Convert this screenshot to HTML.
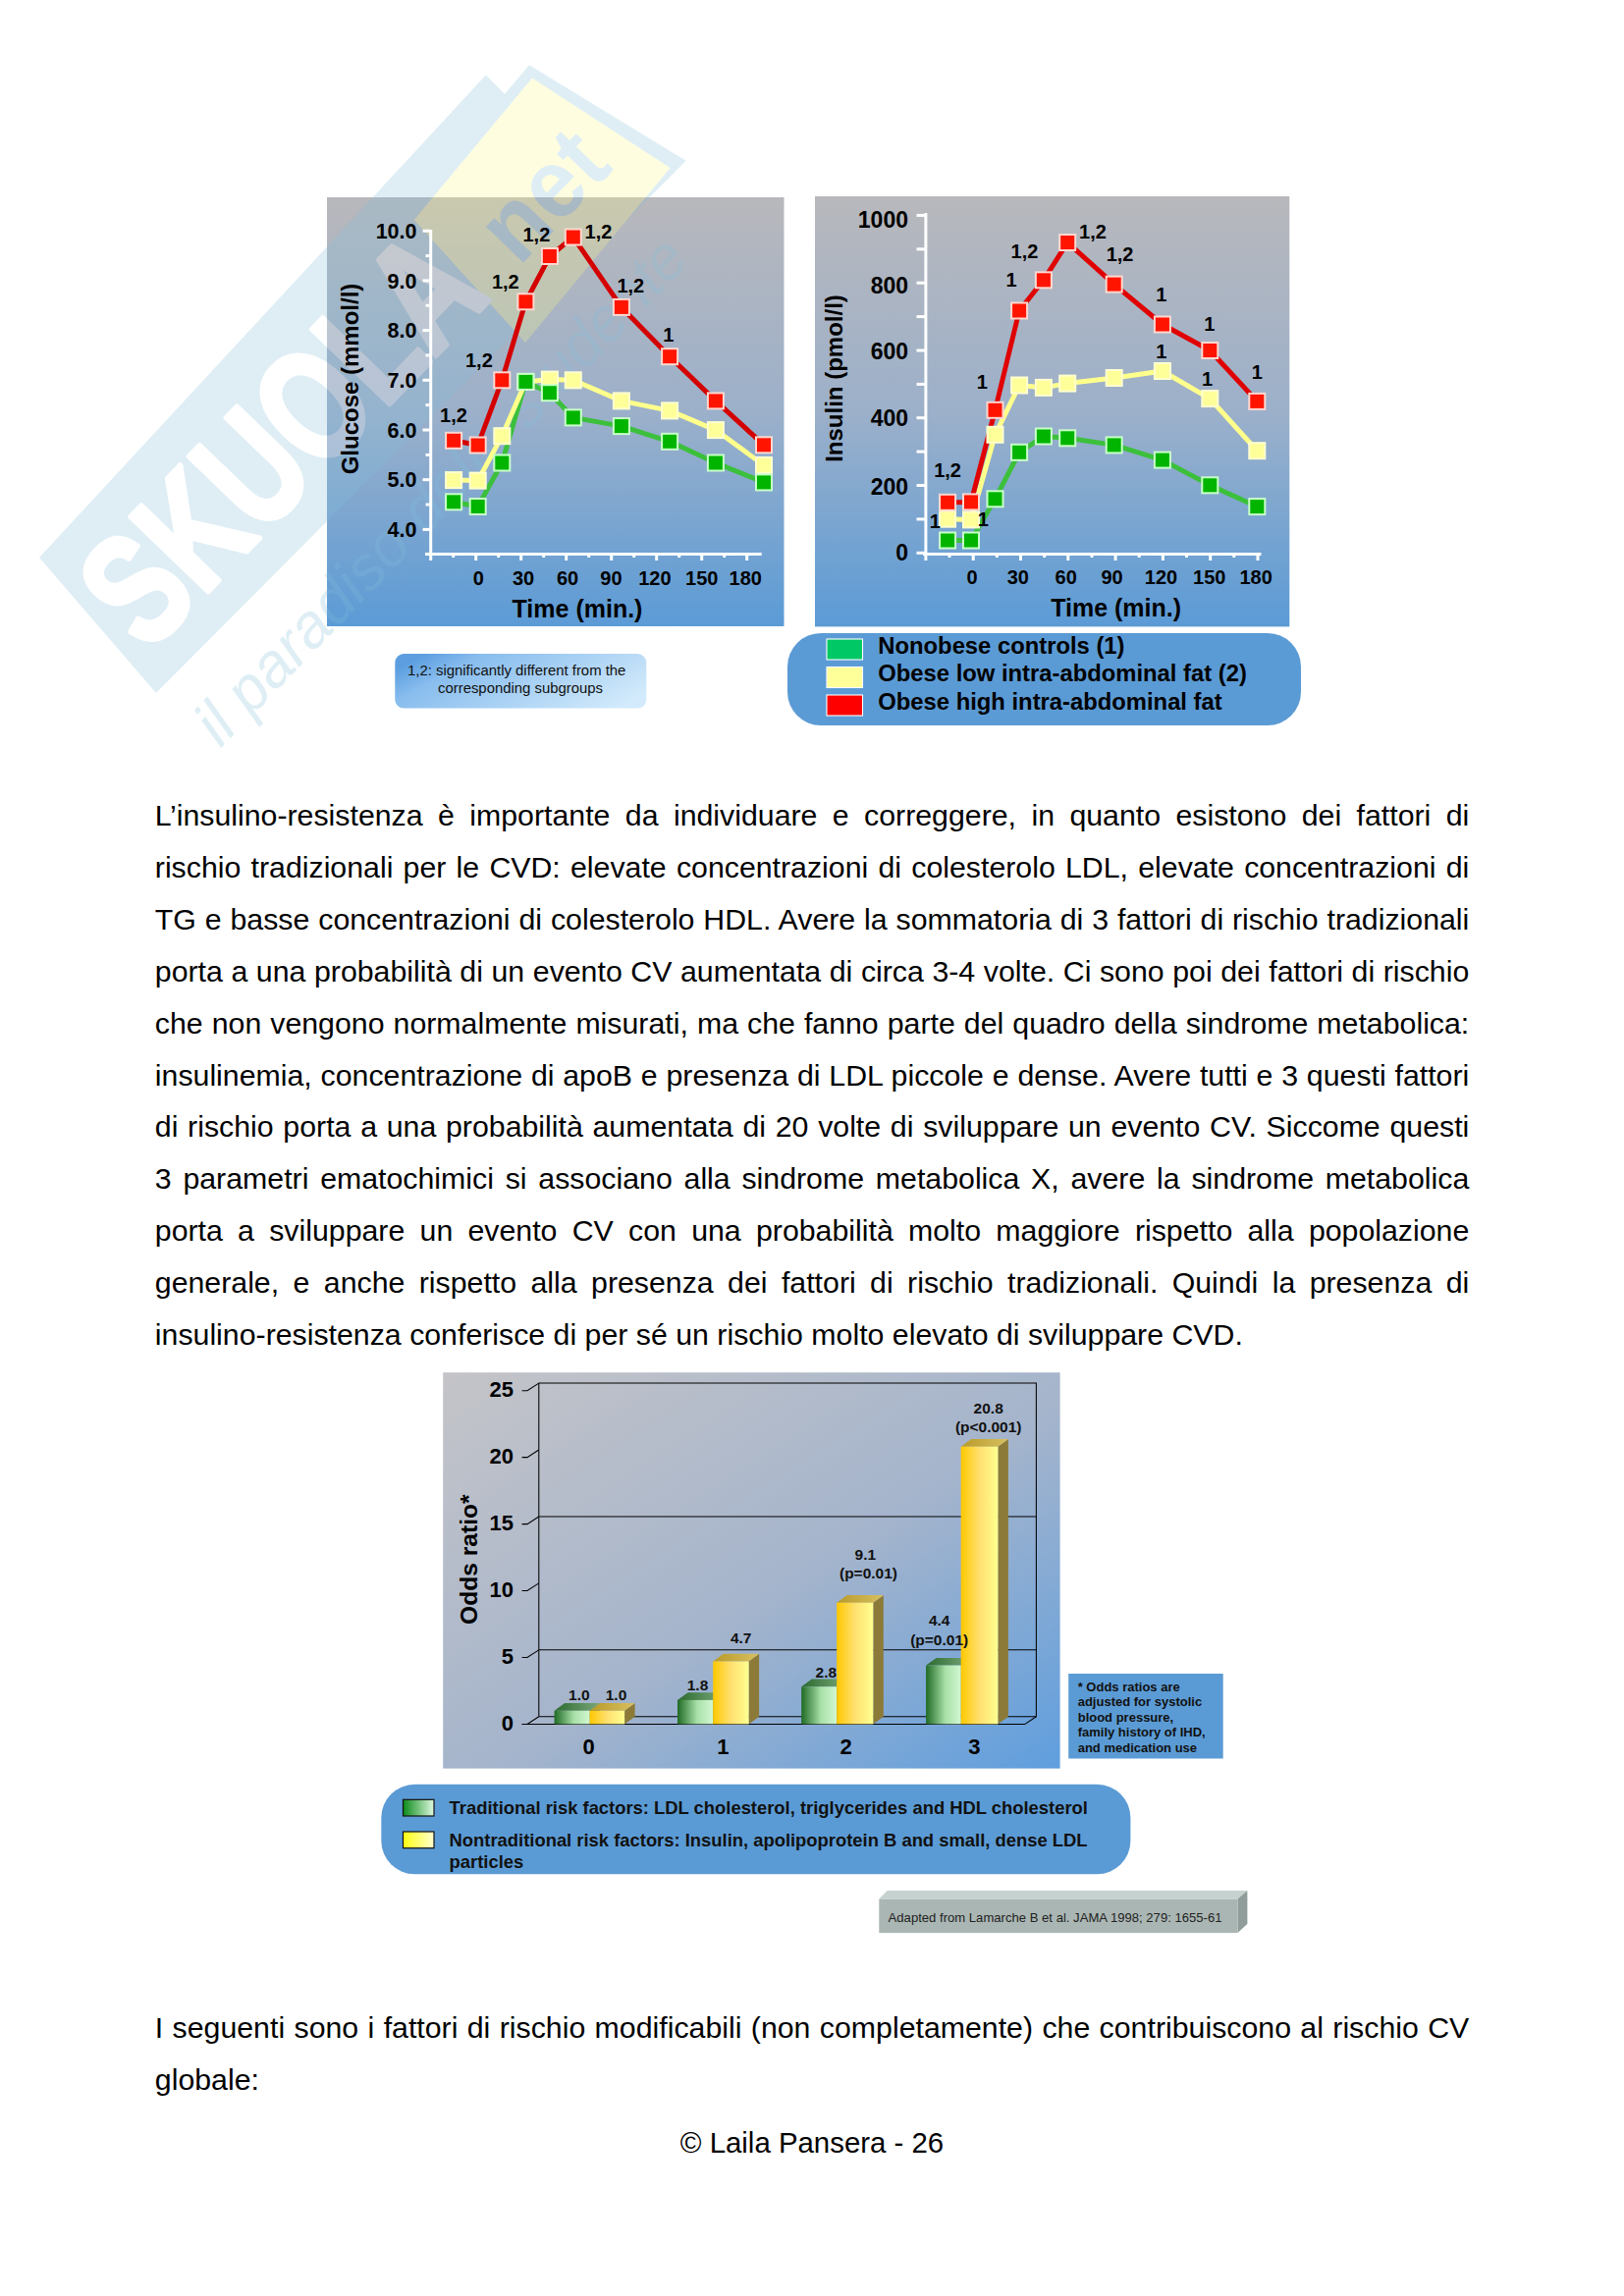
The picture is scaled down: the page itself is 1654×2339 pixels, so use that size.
<!DOCTYPE html>
<html><head><meta charset="utf-8"><style>
html,body{margin:0;padding:0;background:#fff;}
body{width:1654px;height:2339px;position:relative;overflow:hidden;font-family:"Liberation Sans", sans-serif;}
.j,.l{position:absolute;left:157.8px;width:1338.5px;font-size:30.3px;line-height:52.9px;color:#000;white-space:nowrap;}
.j{text-align:justify;text-align-last:justify;white-space:nowrap;}
.foot{position:absolute;left:0;width:1654px;text-align:center;font-size:29.4px;line-height:52.9px;}
svg{position:absolute;left:0;top:0;}
svg text{font-family:"Liberation Sans", sans-serif;}
</style></head><body>
<svg width="1654" height="2339" viewBox="0 0 1654 2339">
<defs>
<linearGradient id="gpan" x1="0" y1="0" x2="0" y2="1">
 <stop offset="0" stop-color="#b8b8bc"/><stop offset="0.5" stop-color="#9cb0ca"/><stop offset="1" stop-color="#5b9bd6"/>
</linearGradient>
<linearGradient id="gbar" x1="0" y1="0" x2="1" y2="1">
 <stop offset="0" stop-color="#c4c4c8"/><stop offset="0.55" stop-color="#a4b4cc"/><stop offset="1" stop-color="#5f9ede"/>
</linearGradient>
<linearGradient id="gnote" x1="0" y1="0.3" x2="1" y2="0.7">
 <stop offset="0" stop-color="#5c9ee0"/><stop offset="0.2" stop-color="#88bdee"/><stop offset="1" stop-color="#d2eafb"/>
</linearGradient>
<linearGradient id="ggf" x1="0" y1="0" x2="1" y2="0">
 <stop offset="0" stop-color="#1f6a24"/><stop offset="0.55" stop-color="#a8e0a8"/><stop offset="1" stop-color="#d2f7d2"/>
</linearGradient>
<linearGradient id="ggt" x1="0" y1="0" x2="1" y2="0">
 <stop offset="0" stop-color="#2c6a30"/><stop offset="1" stop-color="#7aa87a"/>
</linearGradient>
<linearGradient id="gyf" x1="0" y1="0" x2="1" y2="0">
 <stop offset="0" stop-color="#ffc800"/><stop offset="0.5" stop-color="#ffe070"/><stop offset="1" stop-color="#ffff90"/>
</linearGradient>
<linearGradient id="gyt" x1="0" y1="0" x2="1" y2="0">
 <stop offset="0" stop-color="#b89a2a"/><stop offset="1" stop-color="#d8c060"/>
</linearGradient>
<linearGradient id="glg" x1="0" y1="0" x2="1" y2="0">
 <stop offset="0" stop-color="#0a8a1a"/><stop offset="1" stop-color="#e0fae0"/>
</linearGradient>
<linearGradient id="gly" x1="0" y1="0" x2="1" y2="0">
 <stop offset="0" stop-color="#ffff10"/><stop offset="1" stop-color="#ffffd0"/>
</linearGradient>
</defs>
<rect x="333" y="201" width="465.5" height="437" fill="url(#gpan)"/>
<g opacity="0.25">
<polygon points="40,568 494.8,76.6 514,95.8 539,66.3 698.7,163.8 159,706" fill="#83bfdb"/>
<polygon points="542,79.6 682.5,171 535,349 421.8,224" fill="#fffb87"/>
<text transform="translate(150.6,666.5) rotate(-46.0)" font-size="160" font-weight="bold" fill="#fff" stroke="#fff" stroke-width="5" stroke-linejoin="round" textLength="505" lengthAdjust="spacingAndGlyphs">SKUOLA</text>
<text transform="translate(528.5,272.3) rotate(-46.0)" font-size="100" font-weight="bold" fill="#83bfdb" textLength="140" lengthAdjust="spacingAndGlyphs">net</text>
<text transform="translate(224.4,762.8) rotate(-46.0)" font-size="64" font-style="italic" fill="#83bfdb" textLength="690" lengthAdjust="spacingAndGlyphs">il paradiso dello studente</text>
</g>
<g stroke="#fff" stroke-width="3" fill="none">
<line x1="438.7" y1="234" x2="438.7" y2="566"/>
<line x1="433" y1="564.4" x2="775.7" y2="564.4"/>
<line x1="430.5" y1="235.2" x2="438.7" y2="235.2"/>
<line x1="433.5" y1="260.6" x2="438.7" y2="260.6"/>
<line x1="430.5" y1="285.9" x2="438.7" y2="285.9"/>
<line x1="433.5" y1="311.2" x2="438.7" y2="311.2"/>
<line x1="430.5" y1="336.6" x2="438.7" y2="336.6"/>
<line x1="433.5" y1="361.9" x2="438.7" y2="361.9"/>
<line x1="430.5" y1="387.3" x2="438.7" y2="387.3"/>
<line x1="433.5" y1="412.6" x2="438.7" y2="412.6"/>
<line x1="430.5" y1="438.0" x2="438.7" y2="438.0"/>
<line x1="433.5" y1="463.4" x2="438.7" y2="463.4"/>
<line x1="430.5" y1="488.7" x2="438.7" y2="488.7"/>
<line x1="433.5" y1="514.0" x2="438.7" y2="514.0"/>
<line x1="430.5" y1="539.4" x2="438.7" y2="539.4"/>
<line x1="438.7" y1="564" x2="438.7" y2="571"/>
<line x1="461.7" y1="564" x2="461.7" y2="568"/>
<line x1="484.7" y1="564" x2="484.7" y2="571"/>
<line x1="507.7" y1="564" x2="507.7" y2="568"/>
<line x1="530.7" y1="564" x2="530.7" y2="571"/>
<line x1="553.7" y1="564" x2="553.7" y2="568"/>
<line x1="576.7" y1="564" x2="576.7" y2="571"/>
<line x1="599.7" y1="564" x2="599.7" y2="568"/>
<line x1="622.7" y1="564" x2="622.7" y2="571"/>
<line x1="645.7" y1="564" x2="645.7" y2="568"/>
<line x1="668.7" y1="564" x2="668.7" y2="571"/>
<line x1="691.7" y1="564" x2="691.7" y2="568"/>
<line x1="714.7" y1="564" x2="714.7" y2="571"/>
<line x1="737.7" y1="564" x2="737.7" y2="568"/>
<line x1="760.7" y1="564" x2="760.7" y2="571"/>
</g>
<text x="424.5" y="242.9" font-size="21.5" font-weight="bold" text-anchor="end" fill="#000" >10.0</text>
<text x="424.5" y="293.6" font-size="21.5" font-weight="bold" text-anchor="end" fill="#000" >9.0</text>
<text x="424.5" y="344.3" font-size="21.5" font-weight="bold" text-anchor="end" fill="#000" >8.0</text>
<text x="424.5" y="395.0" font-size="21.5" font-weight="bold" text-anchor="end" fill="#000" >7.0</text>
<text x="424.5" y="445.7" font-size="21.5" font-weight="bold" text-anchor="end" fill="#000" >6.0</text>
<text x="424.5" y="496.4" font-size="21.5" font-weight="bold" text-anchor="end" fill="#000" >5.0</text>
<text x="424.5" y="547.1" font-size="21.5" font-weight="bold" text-anchor="end" fill="#000" >4.0</text>
<text x="487.4" y="595.8" font-size="20" font-weight="bold" text-anchor="middle" fill="#000" >0</text>
<text x="533.0" y="595.8" font-size="20" font-weight="bold" text-anchor="middle" fill="#000" >30</text>
<text x="578.0" y="595.8" font-size="20" font-weight="bold" text-anchor="middle" fill="#000" >60</text>
<text x="622.4" y="595.8" font-size="20" font-weight="bold" text-anchor="middle" fill="#000" >90</text>
<text x="666.9" y="595.8" font-size="20" font-weight="bold" text-anchor="middle" fill="#000" >120</text>
<text x="714.8" y="595.8" font-size="20" font-weight="bold" text-anchor="middle" fill="#000" >150</text>
<text x="759.3" y="595.8" font-size="20" font-weight="bold" text-anchor="middle" fill="#000" >180</text>
<text x="588.0" y="628.5" font-size="25" font-weight="bold" text-anchor="middle" fill="#000" >Time (min.)</text>
<text transform="translate(364.5,386) rotate(-90)" x="0" y="0" font-size="24" font-weight="bold" text-anchor="middle">Glucose (mmol/l)</text>
<polyline points="462.1,511.3 486.7,516.0 511.3,471.5 535.4,388.9 559.9,400.2 583.8,425.4 632.9,434.1 682.1,449.8 728.9,471.5 778.0,491.4" fill="none" stroke="#3cc03c" stroke-width="5" stroke-linejoin="round"/>
<polyline points="462.1,489.1 486.7,489.6 511.3,444.2 535.4,388.9 559.9,386.6 583.8,387.3 632.9,408.4 682.1,418.4 728.9,438.1 778.0,473.9" fill="none" stroke="#ffff8c" stroke-width="5" stroke-linejoin="round"/>
<polyline points="462.1,448.8 486.7,453.5 511.3,387.3 535.4,307.3 559.9,261.0 583.8,241.5 632.9,312.9 682.1,363.2 728.9,408.4 778.0,453.3" fill="none" stroke="#d40000" stroke-width="5" stroke-linejoin="round"/>
<rect x="454.1" y="481.1" width="16" height="16" fill="#ffff99" stroke="#ffffd0" stroke-width="2"/>
<rect x="478.7" y="481.6" width="16" height="16" fill="#ffff99" stroke="#ffffd0" stroke-width="2"/>
<rect x="503.3" y="436.2" width="16" height="16" fill="#ffff99" stroke="#ffffd0" stroke-width="2"/>
<rect x="527.4" y="380.9" width="16" height="16" fill="#ffff99" stroke="#ffffd0" stroke-width="2"/>
<rect x="551.9" y="378.6" width="16" height="16" fill="#ffff99" stroke="#ffffd0" stroke-width="2"/>
<rect x="575.8" y="379.3" width="16" height="16" fill="#ffff99" stroke="#ffffd0" stroke-width="2"/>
<rect x="624.9" y="400.4" width="16" height="16" fill="#ffff99" stroke="#ffffd0" stroke-width="2"/>
<rect x="674.1" y="410.4" width="16" height="16" fill="#ffff99" stroke="#ffffd0" stroke-width="2"/>
<rect x="720.9" y="430.1" width="16" height="16" fill="#ffff99" stroke="#ffffd0" stroke-width="2"/>
<rect x="770.0" y="465.9" width="16" height="16" fill="#ffff99" stroke="#ffffd0" stroke-width="2"/>
<rect x="454.1" y="503.3" width="16" height="16" fill="#00b400" stroke="#c8ffc8" stroke-width="2"/>
<rect x="478.7" y="508.0" width="16" height="16" fill="#00b400" stroke="#c8ffc8" stroke-width="2"/>
<rect x="503.3" y="463.5" width="16" height="16" fill="#00b400" stroke="#c8ffc8" stroke-width="2"/>
<rect x="527.4" y="380.9" width="16" height="16" fill="#00b400" stroke="#c8ffc8" stroke-width="2"/>
<rect x="551.9" y="392.2" width="16" height="16" fill="#00b400" stroke="#c8ffc8" stroke-width="2"/>
<rect x="575.8" y="417.4" width="16" height="16" fill="#00b400" stroke="#c8ffc8" stroke-width="2"/>
<rect x="624.9" y="426.1" width="16" height="16" fill="#00b400" stroke="#c8ffc8" stroke-width="2"/>
<rect x="674.1" y="441.8" width="16" height="16" fill="#00b400" stroke="#c8ffc8" stroke-width="2"/>
<rect x="720.9" y="463.5" width="16" height="16" fill="#00b400" stroke="#c8ffc8" stroke-width="2"/>
<rect x="770.0" y="483.4" width="16" height="16" fill="#00b400" stroke="#c8ffc8" stroke-width="2"/>
<rect x="454.1" y="440.8" width="16" height="16" fill="#ff1400" stroke="#ffd8d0" stroke-width="2"/>
<rect x="478.7" y="445.5" width="16" height="16" fill="#ff1400" stroke="#ffd8d0" stroke-width="2"/>
<rect x="503.3" y="379.3" width="16" height="16" fill="#ff1400" stroke="#ffd8d0" stroke-width="2"/>
<rect x="527.4" y="299.3" width="16" height="16" fill="#ff1400" stroke="#ffd8d0" stroke-width="2"/>
<rect x="551.9" y="253.0" width="16" height="16" fill="#ff1400" stroke="#ffd8d0" stroke-width="2"/>
<rect x="575.8" y="233.5" width="16" height="16" fill="#ff1400" stroke="#ffd8d0" stroke-width="2"/>
<rect x="624.9" y="304.9" width="16" height="16" fill="#ff1400" stroke="#ffd8d0" stroke-width="2"/>
<rect x="674.1" y="355.2" width="16" height="16" fill="#ff1400" stroke="#ffd8d0" stroke-width="2"/>
<rect x="720.9" y="400.4" width="16" height="16" fill="#ff1400" stroke="#ffd8d0" stroke-width="2"/>
<rect x="770.0" y="445.3" width="16" height="16" fill="#ff1400" stroke="#ffd8d0" stroke-width="2"/>
<text x="462.0" y="429.7" font-size="20" font-weight="bold" text-anchor="middle" fill="#000" >1,2</text>
<text x="487.9" y="374.3" font-size="20" font-weight="bold" text-anchor="middle" fill="#000" >1,2</text>
<text x="514.8" y="294.0" font-size="20" font-weight="bold" text-anchor="middle" fill="#000" >1,2</text>
<text x="546.4" y="246.0" font-size="20" font-weight="bold" text-anchor="middle" fill="#000" >1,2</text>
<text x="609.5" y="243.2" font-size="20" font-weight="bold" text-anchor="middle" fill="#000" >1,2</text>
<text x="642.3" y="298.0" font-size="20" font-weight="bold" text-anchor="middle" fill="#000" >1,2</text>
<text x="680.9" y="347.8" font-size="20" font-weight="bold" text-anchor="middle" fill="#000" >1</text>
<rect x="830" y="200" width="483.3" height="438.4" fill="url(#gpan)"/>
<g stroke="#fff" stroke-width="3" fill="none">
<line x1="942.9" y1="217" x2="942.9" y2="566"/>
<line x1="940" y1="564.5" x2="1284.5" y2="564.5"/>
<line x1="933.5" y1="219.4" x2="942.9" y2="219.4"/>
<line x1="933.5" y1="253.8" x2="942.9" y2="253.8"/>
<line x1="933.5" y1="288.2" x2="942.9" y2="288.2"/>
<line x1="933.5" y1="322.6" x2="942.9" y2="322.6"/>
<line x1="933.5" y1="357.0" x2="942.9" y2="357.0"/>
<line x1="933.5" y1="391.4" x2="942.9" y2="391.4"/>
<line x1="933.5" y1="425.7" x2="942.9" y2="425.7"/>
<line x1="933.5" y1="460.1" x2="942.9" y2="460.1"/>
<line x1="933.5" y1="494.5" x2="942.9" y2="494.5"/>
<line x1="933.5" y1="528.9" x2="942.9" y2="528.9"/>
<line x1="933.5" y1="563.3" x2="942.9" y2="563.3"/>
<line x1="942.9" y1="564" x2="942.9" y2="571"/>
<line x1="967.0" y1="564" x2="967.0" y2="568"/>
<line x1="991.2" y1="564" x2="991.2" y2="571"/>
<line x1="1015.3" y1="564" x2="1015.3" y2="568"/>
<line x1="1039.5" y1="564" x2="1039.5" y2="571"/>
<line x1="1063.7" y1="564" x2="1063.7" y2="568"/>
<line x1="1087.8" y1="564" x2="1087.8" y2="571"/>
<line x1="1112.0" y1="564" x2="1112.0" y2="568"/>
<line x1="1136.1" y1="564" x2="1136.1" y2="571"/>
<line x1="1160.2" y1="564" x2="1160.2" y2="568"/>
<line x1="1184.4" y1="564" x2="1184.4" y2="571"/>
<line x1="1208.5" y1="564" x2="1208.5" y2="568"/>
<line x1="1232.7" y1="564" x2="1232.7" y2="571"/>
<line x1="1256.8" y1="564" x2="1256.8" y2="568"/>
<line x1="1281.0" y1="564" x2="1281.0" y2="571"/>
</g>
<text x="925.0" y="231.5" font-size="23" font-weight="bold" text-anchor="end" fill="#000" >1000</text>
<text x="925.0" y="299.2" font-size="23" font-weight="bold" text-anchor="end" fill="#000" >800</text>
<text x="925.0" y="366.4" font-size="23" font-weight="bold" text-anchor="end" fill="#000" >600</text>
<text x="925.0" y="434.2" font-size="23" font-weight="bold" text-anchor="end" fill="#000" >400</text>
<text x="925.0" y="503.9" font-size="23" font-weight="bold" text-anchor="end" fill="#000" >200</text>
<text x="925.0" y="571.2" font-size="23" font-weight="bold" text-anchor="end" fill="#000" >0</text>
<text x="990.0" y="594.7" font-size="20" font-weight="bold" text-anchor="middle" fill="#000" >0</text>
<text x="1036.8" y="594.7" font-size="20" font-weight="bold" text-anchor="middle" fill="#000" >30</text>
<text x="1085.7" y="594.7" font-size="20" font-weight="bold" text-anchor="middle" fill="#000" >60</text>
<text x="1132.5" y="594.7" font-size="20" font-weight="bold" text-anchor="middle" fill="#000" >90</text>
<text x="1182.5" y="594.7" font-size="20" font-weight="bold" text-anchor="middle" fill="#000" >120</text>
<text x="1231.8" y="594.7" font-size="20" font-weight="bold" text-anchor="middle" fill="#000" >150</text>
<text x="1279.2" y="594.7" font-size="20" font-weight="bold" text-anchor="middle" fill="#000" >180</text>
<text x="1136.6" y="628.0" font-size="25" font-weight="bold" text-anchor="middle" fill="#000" >Time (min.)</text>
<text transform="translate(857.5,385.5) rotate(-90)" x="0" y="0" font-size="24" font-weight="bold" text-anchor="middle">Insulin (pmol/l)</text>
<polyline points="965.1,550.5 989.0,550.5 1013.5,508.3 1038.1,460.8 1062.9,444.5 1087.2,446.3 1134.7,453.4 1183.9,468.6 1232.3,494.3 1280.3,516.1" fill="none" stroke="#3cc03c" stroke-width="5" stroke-linejoin="round"/>
<polyline points="965.1,528.7 989.0,529.4 1013.5,442.8 1038.1,392.5 1062.9,394.9 1087.2,390.6 1134.7,385.0 1183.9,378.0 1232.3,406.1 1280.3,459.2" fill="none" stroke="#ffff8c" stroke-width="5" stroke-linejoin="round"/>
<polyline points="965.1,511.8 989.0,511.4 1013.5,417.8 1038.1,316.5 1062.9,285.3 1087.2,247.0 1134.7,289.6 1183.9,330.5 1232.3,357.0 1280.3,408.9" fill="none" stroke="#e00000" stroke-width="5" stroke-linejoin="round"/>
<rect x="957.1" y="520.7" width="16" height="16" fill="#ffff99" stroke="#ffffd0" stroke-width="2"/>
<rect x="981.0" y="521.4" width="16" height="16" fill="#ffff99" stroke="#ffffd0" stroke-width="2"/>
<rect x="1005.5" y="434.8" width="16" height="16" fill="#ffff99" stroke="#ffffd0" stroke-width="2"/>
<rect x="1030.1" y="384.5" width="16" height="16" fill="#ffff99" stroke="#ffffd0" stroke-width="2"/>
<rect x="1054.9" y="386.9" width="16" height="16" fill="#ffff99" stroke="#ffffd0" stroke-width="2"/>
<rect x="1079.2" y="382.6" width="16" height="16" fill="#ffff99" stroke="#ffffd0" stroke-width="2"/>
<rect x="1126.7" y="377.0" width="16" height="16" fill="#ffff99" stroke="#ffffd0" stroke-width="2"/>
<rect x="1175.9" y="370.0" width="16" height="16" fill="#ffff99" stroke="#ffffd0" stroke-width="2"/>
<rect x="1224.3" y="398.1" width="16" height="16" fill="#ffff99" stroke="#ffffd0" stroke-width="2"/>
<rect x="1272.3" y="451.2" width="16" height="16" fill="#ffff99" stroke="#ffffd0" stroke-width="2"/>
<rect x="957.1" y="542.5" width="16" height="16" fill="#00b400" stroke="#c8ffc8" stroke-width="2"/>
<rect x="981.0" y="542.5" width="16" height="16" fill="#00b400" stroke="#c8ffc8" stroke-width="2"/>
<rect x="1005.5" y="500.3" width="16" height="16" fill="#00b400" stroke="#c8ffc8" stroke-width="2"/>
<rect x="1030.1" y="452.8" width="16" height="16" fill="#00b400" stroke="#c8ffc8" stroke-width="2"/>
<rect x="1054.9" y="436.5" width="16" height="16" fill="#00b400" stroke="#c8ffc8" stroke-width="2"/>
<rect x="1079.2" y="438.3" width="16" height="16" fill="#00b400" stroke="#c8ffc8" stroke-width="2"/>
<rect x="1126.7" y="445.4" width="16" height="16" fill="#00b400" stroke="#c8ffc8" stroke-width="2"/>
<rect x="1175.9" y="460.6" width="16" height="16" fill="#00b400" stroke="#c8ffc8" stroke-width="2"/>
<rect x="1224.3" y="486.3" width="16" height="16" fill="#00b400" stroke="#c8ffc8" stroke-width="2"/>
<rect x="1272.3" y="508.1" width="16" height="16" fill="#00b400" stroke="#c8ffc8" stroke-width="2"/>
<rect x="957.1" y="503.8" width="16" height="16" fill="#ff1400" stroke="#ffd8d0" stroke-width="2"/>
<rect x="981.0" y="503.4" width="16" height="16" fill="#ff1400" stroke="#ffd8d0" stroke-width="2"/>
<rect x="1005.5" y="409.8" width="16" height="16" fill="#ff1400" stroke="#ffd8d0" stroke-width="2"/>
<rect x="1030.1" y="308.5" width="16" height="16" fill="#ff1400" stroke="#ffd8d0" stroke-width="2"/>
<rect x="1054.9" y="277.3" width="16" height="16" fill="#ff1400" stroke="#ffd8d0" stroke-width="2"/>
<rect x="1079.2" y="239.0" width="16" height="16" fill="#ff1400" stroke="#ffd8d0" stroke-width="2"/>
<rect x="1126.7" y="281.6" width="16" height="16" fill="#ff1400" stroke="#ffd8d0" stroke-width="2"/>
<rect x="1175.9" y="322.5" width="16" height="16" fill="#ff1400" stroke="#ffd8d0" stroke-width="2"/>
<rect x="1224.3" y="349.0" width="16" height="16" fill="#ff1400" stroke="#ffd8d0" stroke-width="2"/>
<rect x="1272.3" y="400.9" width="16" height="16" fill="#ff1400" stroke="#ffd8d0" stroke-width="2"/>
<text x="965.1" y="486.4" font-size="20" font-weight="bold" text-anchor="middle" fill="#000" >1,2</text>
<text x="952.2" y="537.9" font-size="20" font-weight="bold" text-anchor="middle" fill="#000" >1</text>
<text x="1001.4" y="536.0" font-size="20" font-weight="bold" text-anchor="middle" fill="#000" >1</text>
<text x="1000.2" y="395.6" font-size="20" font-weight="bold" text-anchor="middle" fill="#000" >1</text>
<text x="1030.1" y="291.7" font-size="20" font-weight="bold" text-anchor="middle" fill="#000" >1</text>
<text x="1043.5" y="262.9" font-size="20" font-weight="bold" text-anchor="middle" fill="#000" >1,2</text>
<text x="1113.0" y="243.0" font-size="20" font-weight="bold" text-anchor="middle" fill="#000" >1,2</text>
<text x="1140.6" y="266.4" font-size="20" font-weight="bold" text-anchor="middle" fill="#000" >1,2</text>
<text x="1182.7" y="307.4" font-size="20" font-weight="bold" text-anchor="middle" fill="#000" >1</text>
<text x="1182.7" y="365.2" font-size="20" font-weight="bold" text-anchor="middle" fill="#000" >1</text>
<text x="1231.8" y="336.6" font-size="20" font-weight="bold" text-anchor="middle" fill="#000" >1</text>
<text x="1229.5" y="392.8" font-size="20" font-weight="bold" text-anchor="middle" fill="#000" >1</text>
<text x="1280.3" y="386.2" font-size="20" font-weight="bold" text-anchor="middle" fill="#000" >1</text>
<rect x="802" y="645" width="523" height="94" rx="34" fill="#5b9bd5"/>
<rect x="842" y="651" width="36.5" height="21" fill="#00c864" stroke="#fff" stroke-width="1.1"/>
<rect x="842" y="679.5" width="36.5" height="21" fill="#ffff99" stroke="#fff" stroke-width="1.1"/>
<rect x="842" y="708" width="36.5" height="21" fill="#ff0000" stroke="#fff" stroke-width="1.1"/>
<text x="894.3" y="665.5" font-size="23.8" font-weight="bold" text-anchor="start" fill="#000" >Nonobese controls (1)</text>
<text x="894.3" y="694.0" font-size="23.8" font-weight="bold" text-anchor="start" fill="#000" >Obese low intra-abdominal fat (2)</text>
<text x="894.3" y="722.5" font-size="23.8" font-weight="bold" text-anchor="start" fill="#000" >Obese high intra-abdominal fat</text>
<rect x="402.3" y="666" width="256" height="55.6" rx="9" fill="url(#gnote)"/>
<text x="415.0" y="687.5" font-size="14.9" font-weight="normal" text-anchor="start" fill="#111" >1,2: significantly different from the</text>
<text x="446.0" y="705.5" font-size="14.9" font-weight="normal" text-anchor="start" fill="#111" >corresponding subgroups</text>
<rect x="451.2" y="1398.2" width="628.4" height="403.4" fill="url(#gbar)"/>
<g stroke="#000" stroke-width="1.05" fill="none">
<polyline points="548.8,1748.8 548.8,1409 1055.4,1409 1055.4,1748.8"/>
<line x1="548.8" y1="1748.8" x2="1055.4" y2="1748.8"/>
<line x1="548.8" y1="1680.8" x2="1055.4" y2="1680.8"/>
<line x1="548.8" y1="1545.0" x2="1055.4" y2="1545.0"/>
<line x1="531.6" y1="1756.4" x2="1044" y2="1756.4"/>
<line x1="1044" y1="1756.4" x2="1055.4" y2="1748.8"/>
<polyline points="531.6,1756.4 537,1756.4 548.8,1748.8"/>
<polyline points="531.6,1688.5 537,1688.5 548.8,1680.9"/>
<polyline points="531.6,1620.5 537,1620.5 548.8,1612.9"/>
<polyline points="531.6,1552.6 537,1552.6 548.8,1545.0"/>
<polyline points="531.6,1484.6 537,1484.6 548.8,1477.0"/>
<polyline points="531.6,1416.7 537,1416.7 548.8,1409.1"/>
</g>
<text x="523.0" y="1762.9" font-size="22" font-weight="bold" text-anchor="end" fill="#000" >0</text>
<text x="523.0" y="1695.0" font-size="22" font-weight="bold" text-anchor="end" fill="#000" >5</text>
<text x="523.0" y="1627.0" font-size="22" font-weight="bold" text-anchor="end" fill="#000" >10</text>
<text x="523.0" y="1559.1" font-size="22" font-weight="bold" text-anchor="end" fill="#000" >15</text>
<text x="523.0" y="1491.1" font-size="22" font-weight="bold" text-anchor="end" fill="#000" >20</text>
<text x="523.0" y="1423.2" font-size="22" font-weight="bold" text-anchor="end" fill="#000" >25</text>
<text x="599.5" y="1787.2" font-size="22" font-weight="bold" text-anchor="middle" fill="#000" >0</text>
<text x="736.3" y="1787.2" font-size="22" font-weight="bold" text-anchor="middle" fill="#000" >1</text>
<text x="861.5" y="1787.2" font-size="22" font-weight="bold" text-anchor="middle" fill="#000" >2</text>
<text x="992.3" y="1787.2" font-size="22" font-weight="bold" text-anchor="middle" fill="#000" >3</text>
<text transform="translate(485.5,1588.7) rotate(-90)" x="0" y="0" font-size="24.6" font-weight="bold" text-anchor="middle">Odds ratio*</text>
<polygon points="600.6,1742.8 611.1,1735.1 611.1,1748.7 600.6,1756.4" fill="#4a7a40"/>
<polygon points="564.6,1742.8 575.1,1735.1 611.1,1735.1 600.6,1742.8" fill="url(#ggt)"/>
<rect x="564.6" y="1742.8" width="36.0" height="13.6" fill="url(#ggf)"/>
<polygon points="636.1,1742.8 646.6,1735.1 646.6,1748.7 636.1,1756.4" fill="#8c7a38"/>
<polygon points="600.6,1742.8 611.1,1735.1 646.6,1735.1 636.1,1742.8" fill="url(#gyt)"/>
<rect x="600.6" y="1742.8" width="35.5" height="13.6" fill="url(#gyf)"/>
<polygon points="726.2,1731.9 736.7,1724.2 736.7,1748.7 726.2,1756.4" fill="#4a7a40"/>
<polygon points="690.0,1731.9 700.5,1724.2 736.7,1724.2 726.2,1731.9" fill="url(#ggt)"/>
<rect x="690.0" y="1731.9" width="36.2" height="24.5" fill="url(#ggf)"/>
<polygon points="762.6,1692.5 773.1,1684.8 773.1,1748.7 762.6,1756.4" fill="#8c7a38"/>
<polygon points="726.2,1692.5 736.7,1684.8 773.1,1684.8 762.6,1692.5" fill="url(#gyt)"/>
<rect x="726.2" y="1692.5" width="36.4" height="63.9" fill="url(#gyf)"/>
<polygon points="852.2,1718.3 862.7,1710.6 862.7,1748.7 852.2,1756.4" fill="#4a7a40"/>
<polygon points="816.2,1718.3 826.7,1710.6 862.7,1710.6 852.2,1718.3" fill="url(#ggt)"/>
<rect x="816.2" y="1718.3" width="36.0" height="38.1" fill="url(#ggf)"/>
<polygon points="889.3,1632.7 899.8,1625.0 899.8,1748.7 889.3,1756.4" fill="#8c7a38"/>
<polygon points="852.2,1632.7 862.7,1625.0 899.8,1625.0 889.3,1632.7" fill="url(#gyt)"/>
<rect x="852.2" y="1632.7" width="37.1" height="123.7" fill="url(#gyf)"/>
<polygon points="978.7,1696.6 989.2,1688.9 989.2,1748.7 978.7,1756.4" fill="#4a7a40"/>
<polygon points="943.1,1696.6 953.6,1688.9 989.2,1688.9 978.7,1696.6" fill="url(#ggt)"/>
<rect x="943.1" y="1696.6" width="35.6" height="59.8" fill="url(#ggf)"/>
<polygon points="1016.4,1473.7 1026.9,1466.0 1026.9,1748.7 1016.4,1756.4" fill="#8c7a38"/>
<polygon points="978.7,1473.7 989.2,1466.0 1026.9,1466.0 1016.4,1473.7" fill="url(#gyt)"/>
<rect x="978.7" y="1473.7" width="37.7" height="282.7" fill="url(#gyf)"/>
<text x="589.8" y="1731.8" font-size="15.5" font-weight="bold" text-anchor="middle" fill="#111" >1.0</text>
<text x="627.5" y="1731.8" font-size="15.5" font-weight="bold" text-anchor="middle" fill="#111" >1.0</text>
<text x="710.5" y="1722.1" font-size="15.5" font-weight="bold" text-anchor="middle" fill="#111" >1.8</text>
<text x="754.7" y="1673.6" font-size="15.5" font-weight="bold" text-anchor="middle" fill="#111" >4.7</text>
<text x="841.4" y="1709.2" font-size="15.5" font-weight="bold" text-anchor="middle" fill="#111" >2.8</text>
<text x="881.3" y="1588.5" font-size="15.5" font-weight="bold" text-anchor="middle" fill="#111" >9.1</text>
<text x="884.5" y="1607.9" font-size="15.5" font-weight="bold" text-anchor="middle" fill="#111" >(p=0.01)</text>
<text x="956.7" y="1656.4" font-size="15.5" font-weight="bold" text-anchor="middle" fill="#111" >4.4</text>
<text x="956.7" y="1675.8" font-size="15.5" font-weight="bold" text-anchor="middle" fill="#111" >(p=0.01)</text>
<text x="1006.7" y="1439.8" font-size="15.5" font-weight="bold" text-anchor="middle" fill="#111" >20.8</text>
<text x="1006.7" y="1459.2" font-size="15.5" font-weight="bold" text-anchor="middle" fill="#111" >(p&lt;0.001)</text>
<rect x="1088.2" y="1705" width="157.5" height="86.5" fill="#5b9bd5"/>
<text x="1097.7" y="1722.7" font-size="13" font-weight="bold" text-anchor="start" fill="#111" >* Odds ratios are</text>
<text x="1097.7" y="1738.2" font-size="13" font-weight="bold" text-anchor="start" fill="#111" >adjusted for systolic</text>
<text x="1097.7" y="1753.7" font-size="13" font-weight="bold" text-anchor="start" fill="#111" >blood pressure,</text>
<text x="1097.7" y="1769.3" font-size="13" font-weight="bold" text-anchor="start" fill="#111" >family history of IHD,</text>
<text x="1097.7" y="1784.8" font-size="13" font-weight="bold" text-anchor="start" fill="#111" >and medication use</text>
<rect x="388.3" y="1817.8" width="763.1" height="91.5" rx="34" fill="#5b9bd5"/>
<rect x="410.5" y="1833.3" width="31.5" height="16.7" fill="url(#glg)" stroke="#111" stroke-width="1.2"/>
<rect x="410.5" y="1866" width="31.5" height="16.7" fill="url(#gly)" stroke="#111" stroke-width="1.2"/>
<text x="457.6" y="1847.8" font-size="18.4" font-weight="bold" text-anchor="start" fill="#111" >Traditional risk factors: LDL cholesterol, triglycerides and HDL cholesterol</text>
<text x="457.6" y="1880.5" font-size="18.4" font-weight="bold" text-anchor="start" fill="#111" >Nontraditional risk factors: Insulin, apolipoprotein B and small, dense LDL</text>
<text x="457.6" y="1903.3" font-size="18.4" font-weight="bold" text-anchor="start" fill="#111" >particles</text>
<polygon points="895.3,1934.6 903.5,1926 1270.4,1926 1260.5,1934.6" fill="#c6d2cf"/>
<polygon points="1260.5,1934.6 1270.4,1926 1270.4,1960 1260.5,1969.1" fill="#909d9a"/>
<rect x="895.3" y="1934.6" width="365.2" height="34.5" fill="#aab6b3"/>
<text x="904.6" y="1957.6" font-size="13.1" font-weight="normal" text-anchor="start" fill="#222" >Adapted from Lamarche B et al. JAMA 1998; 279: 1655-61</text>
</svg>
<div class="j" style="top:805.05px">L’insulino-resistenza è importante da individuare e correggere, in quanto esistono dei fattori di</div>
<div class="j" style="top:857.95px">rischio tradizionali per le CVD: elevate concentrazioni di colesterolo LDL, elevate concentrazioni di</div>
<div class="j" style="top:910.85px">TG e basse concentrazioni di colesterolo HDL. Avere la sommatoria di 3 fattori di rischio tradizionali</div>
<div class="j" style="top:963.75px">porta a una probabilità di un evento CV aumentata di circa 3-4 volte. Ci sono poi dei fattori di rischio</div>
<div class="j" style="top:1016.65px">che non vengono normalmente misurati, ma che fanno parte del quadro della sindrome metabolica:</div>
<div class="j" style="top:1069.55px">insulinemia, concentrazione di apoB e presenza di LDL piccole e dense. Avere tutti e 3 questi fattori</div>
<div class="j" style="top:1122.45px">di rischio porta a una probabilità aumentata di 20 volte di sviluppare un evento CV. Siccome questi</div>
<div class="j" style="top:1175.35px">3 parametri ematochimici si associano alla sindrome metabolica X, avere la sindrome metabolica</div>
<div class="j" style="top:1228.25px">porta a sviluppare un evento CV con una probabilità molto maggiore rispetto alla popolazione</div>
<div class="j" style="top:1281.15px">generale, e anche rispetto alla presenza dei fattori di rischio tradizionali. Quindi la presenza di</div>
<div class="l" style="top:1334.05px">insulino-resistenza conferisce di per sé un rischio molto elevato di sviluppare CVD.</div>
<div class="j" style="top:2040.05px">I seguenti sono i fattori di rischio modificabili (non completamente) che contribuiscono al rischio CV</div>
<div class="l" style="top:2092.95px">globale:</div>
<div class="foot" style="top:2157.36px;left:0px">© Laila Pansera - 26</div>
</body></html>
